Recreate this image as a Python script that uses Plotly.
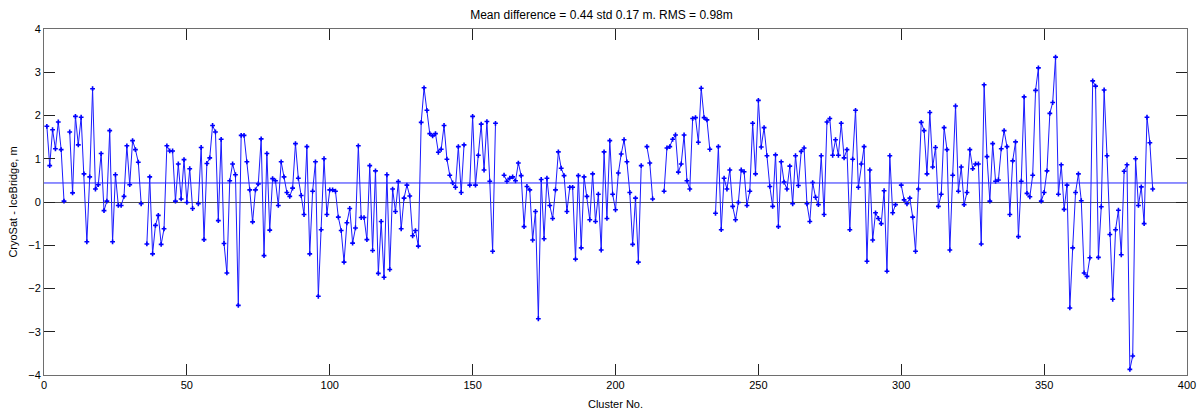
import plotly.graph_objects as go

N = None
vals_001_050 = [1.75, 0.84, 1.67, 1.23, 1.85, 1.21, 0.02, N, 1.62, 0.21,
                1.98, 1.32, 1.96, 0.65, -0.92, 0.58, 2.62, 0.30, 0.40, 1.12,
                -0.20, 0.02, 1.65, -0.92, 0.63, -0.08, -0.08, 0.13, 1.30, 0.40,
                1.42, 1.21, 0.92, -0.04, N, -0.97, 0.58, -1.20, -0.54, -0.31,
                -0.98, -0.62, 1.30, 1.18, 1.18, 0.02, 0.88, 0.07, 0.98, -0.01]
vals_051_100 = [0.77, -0.15, N, -0.04, 1.26, -0.87, 0.89, 1.02, 1.77, 1.62,
                -0.43, 1.45, -0.96, -1.64, 0.49, 0.88, 0.63, -2.39, 1.54, 1.54,
                0.93, 0.28, -0.46, 0.28, 0.42, 1.46, -1.24, 1.12, -0.65, 0.54,
                0.49, -0.08, 0.93, 0.58, 0.22, 0.13, 0.32, 1.35, 0.55, 0.15,
                -0.29, 1.28, -1.20, 0.25, 0.93, -2.18, -0.64, 1.00, -0.29, 0.28]
vals_101_150 = [0.28, 0.25, -0.35, -0.66, -1.39, -0.48, -0.15, -0.95, -0.60, 1.30,
                -0.36, -0.36, -0.87, 0.84, -1.12, 0.72, -1.65, -0.45, -1.74, 0.63,
                -1.56, 0.30, -0.22, 0.47, -0.62, 0.09, 0.39, 0.14, -0.78, -0.66,
                -1.02, 1.84, 2.64, 2.12, 1.58, 1.53, 1.58, 1.15, 1.22, 1.77,
                0.99, 0.62, 0.44, 0.34, 1.28, 0.22, 1.32, N, 0.39, 1.98]
vals_151_200 = [0.39, 1.08, 1.80, 0.74, 1.86, 0.48, -1.14, 1.82, N, N,
                0.62, 0.48, 0.55, 0.58, 0.49, 0.90, 0.61, -0.57, 0.36, 0.28,
                -0.88, -0.22, -2.70, 0.52, -0.85, 0.55, -0.08, -0.38, 0.28, 1.16,
                0.78, 0.61, -0.22, 0.34, 0.34, -1.32, 0.61, -1.06, 0.58, 0.13,
                -0.41, 0.65, -0.45, 0.18, -1.11, 1.16, -0.38, 1.42, 0.18, -0.18]
vals_201_250 = [0.67, 1.11, 1.44, 0.93, 0.22, -0.98, 0.09, -1.39, 0.84, N,
                1.28, 0.90, 0.07, N, N, N, 0.25, 1.25, 1.28, 1.45,
                1.55, 0.69, 0.88, 1.55, 0.49, 0.30, 1.93, 1.95, 1.38, 2.63,
                1.95, 1.90, 1.22, N, -0.26, 1.28, -0.64, 0.55, 0.30, 0.74,
                -0.10, -0.41, -0.01, 0.74, 0.70, -0.08, 0.25, 1.82, 0.65, 2.35]
vals_251_300 = [1.27, 1.72, 1.07, 0.36, -0.10, 1.09, -0.57, 0.93, 0.46, 0.30,
                0.83, -0.04, 1.07, 0.38, 1.17, 1.25, -0.04, -0.45, 0.45, 0.11,
                -0.06, 1.07, -0.29, 1.85, 1.93, 1.08, 1.44, 1.08, 1.82, 1.02,
                1.21, -0.64, 0.99, 2.12, 0.34, 0.88, 1.28, -1.37, 0.74, -0.88,
                -0.25, -0.38, -0.50, 0.26, -1.60, 1.07, -0.25, -0.06, N, 0.39]
vals_301_350 = [0.05, -0.04, 0.09, -0.35, -1.14, 0.30, 1.84, 1.65, 0.65, 2.07,
                0.81, 1.26, -0.10, 0.18, 1.72, 1.21, -1.11, 0.62, 2.22, 0.25,
                0.81, -0.06, 0.22, 1.21, 0.77, 0.88, 0.88, -0.97, 2.71, 1.05,
                0.02, 1.35, 0.48, 0.51, 1.23, 1.65, 1.28, -0.29, 0.95, 1.39,
                -0.80, 0.48, 2.43, 0.20, 0.12, 0.62, 2.58, 3.10, 0.02, 0.22]
vals_351_388 = [0.72, 2.05, 2.30, 3.35, 0.18, 0.86, -0.17, 0.39, -2.45, -1.06,
                0.22, 0.65, 0.03, -1.64, -1.72, -1.29, 2.80, 2.68, -1.28, -0.11,
                2.59, 1.07, -0.75, -2.25, -0.64, -0.19, -1.22, 0.71, 0.86, -3.87,
                -3.56, 1.00, -0.08, 0.35, -0.50, 1.96, 1.37, 0.30]

values = (vals_001_050 + vals_051_100 + vals_101_150 + vals_151_200 +
          vals_201_250 + vals_251_300 + vals_301_350 + vals_351_388)
clusters = list(range(1, len(values) + 1))
mean_diff = 0.44
x_ticks = [0, 50, 100, 150, 200, 250, 300, 350, 400]
y_ticks = [-4, -3, -2, -1, 0, 1, 2, 3, 4]

font = "Liberation Sans, Arial, Helvetica, sans-serif"

fig = go.Figure()
fig.add_trace(go.Scatter(
    x=clusters, y=values, mode="lines+markers",
    line=dict(color="#1a1aff", width=1),
    marker=dict(symbol="cross", size=4, color="#0000ff", line=dict(width=0)),
    connectgaps=False, showlegend=False, hoverinfo="x+y"))

fig.add_shape(type="line", xref="paper", yref="y", x0=0, x1=1,
              y0=mean_diff, y1=mean_diff, line=dict(color="#2020ff", width=1))

axis_common = dict(showgrid=False, showline=True, linecolor="#6e6e6e", linewidth=1,
                   mirror="ticks", ticks="inside", ticklen=11, tickcolor="#222222",
                   tickwidth=1, tickfont=dict(family=font, size=11, color="#000000"))

fig.update_xaxes(range=[0, 400], tickmode="array", tickvals=x_ticks,
                 zeroline=False,
                 title=dict(text="Cluster No.", font=dict(family=font, size=11, color="#000"),
                            standoff=10),
                 **axis_common)
fig.update_yaxes(range=[-4, 4], tickmode="array", tickvals=y_ticks,
                 zeroline=True, zerolinecolor="#505050", zerolinewidth=1,
                 title=dict(text="CryoSat - IceBridge, m", font=dict(family=font, size=11, color="#000"),
                            standoff=8),
                 **axis_common)

fig.update_layout(
    width=1203, height=415,
    margin=dict(l=44, r=16, t=29, b=40, autoexpand=False),
    paper_bgcolor="#ffffff", plot_bgcolor="#ffffff",
    title=dict(text="Mean difference = 0.44 std 0.17 m. RMS = 0.98m",
               x=0.5, xanchor="center", y=0.965, yanchor="middle",
               font=dict(family=font, size=12, color="#000")),
)

fig.write_html("out.html", config={"displayModeBar": False},
               post_script="document.body.style.margin='0px';document.body.style.overflow='hidden';")
